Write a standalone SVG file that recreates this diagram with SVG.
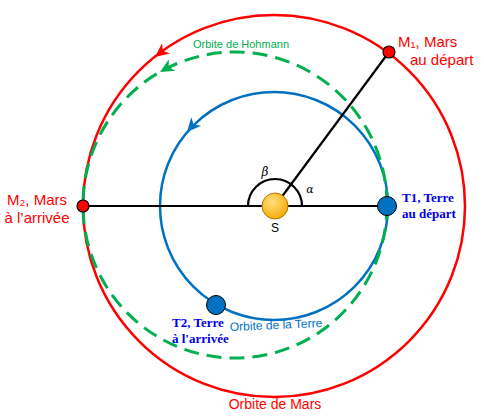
<svg xmlns="http://www.w3.org/2000/svg" width="484" height="418" viewBox="0 0 484 418">
<defs>
<radialGradient id="sun" cx="0.4" cy="0.35" r="0.7">
<stop offset="0" stop-color="#FFE080"/>
<stop offset="1" stop-color="#F5A800"/>
</radialGradient>
<path id="ah" d="M0,0 L-14,-6.5 L-10,0 L-14,6.5 Z"/>
<style>
.orb{fill:none}
.red{fill:#FF0000;font-family:"Liberation Sans",Arial,sans-serif;font-size:15px}
.tl{fill:#0000EE;font-family:"Liberation Serif","Times New Roman",serif;font-size:13px;font-weight:bold}
.ol{font-family:"Liberation Sans",Arial,sans-serif}
.line{stroke:#000;stroke-width:2.2;fill:none}
</style>
</defs>
<rect width="484" height="418" fill="#FFFFFF"/>
<g id="orbits">
<g id="orbite-mars">
<circle class="orb" cx="274" cy="206" r="191" stroke="#FF0000" stroke-width="2.5"/>
<use href="#ah" fill="#FF0000" transform="translate(155,57) rotate(142)"/>
<text class="ol" x="275" y="409" text-anchor="middle" font-size="14" fill="#FF0000">Orbite de Mars</text>
</g>
<g id="orbite-terre">
<circle class="orb" cx="274" cy="206" r="114" stroke="#0070C0" stroke-width="2.5"/>
<use href="#ah" fill="#0070C0" transform="translate(187,132) rotate(131)"/>
<text class="ol" x="230" y="331" font-size="12" fill="#0070C0" transform="rotate(-2.5 230 331)">Orbite de la Terre</text>
</g>
<g id="orbite-hohmann">
<ellipse class="orb" cx="235" cy="205" rx="152" ry="153" stroke="#00B050" stroke-width="3" stroke-dasharray="15 8"/>
<use href="#ah" fill="#00B050" transform="translate(160,72) rotate(150)"/>
<text class="ol" x="193" y="48" font-size="11" fill="#00B050">Orbite de Hohmann</text>
</g>
</g>
<g id="connectors">
<line class="line" x1="83" y1="206" x2="387" y2="206"/>
<line class="line" x1="275" y1="206" x2="389" y2="52"/>
<path class="line" d="M248,206 A27,27 0 0 1 302,206" stroke-width="1.6"/>
</g>
<g id="angles">
<text x="265" y="176" text-anchor="middle" font-family="'DejaVu Serif',serif" font-style="italic" font-size="12">β</text>
<text x="310" y="193" text-anchor="middle" font-family="'DejaVu Serif',serif" font-style="italic" font-size="11">α</text>
</g>
<g id="soleil">
<circle cx="275" cy="206" r="13" fill="url(#sun)" stroke="#B07800" stroke-width="1"/>
<text x="275" y="232" text-anchor="middle" font-family="'Liberation Sans',Arial,sans-serif" font-size="12">S</text>
</g>
<g id="M1">
<circle cx="389" cy="52" r="6" fill="#FF0000" stroke="#000" stroke-width="1.2"/>
<text class="red" x="398" y="47">M₁, Mars</text>
<text class="red" x="410" y="65">au départ</text>
</g>
<g id="M2">
<circle cx="83" cy="206" r="6" fill="#FF0000" stroke="#000" stroke-width="1.2"/>
<text class="red" x="37" y="205" text-anchor="middle">M₂, Mars</text>
<text class="red" x="37" y="223" text-anchor="middle">à l’arrivée</text>
</g>
<g id="T1">
<circle cx="387" cy="206" r="9.5" fill="#0070C0" stroke="#000" stroke-width="1"/>
<text class="tl" x="402" y="202">T1, Terre</text>
<text class="tl" x="402" y="218">au départ</text>
</g>
<g id="T2">
<circle cx="216" cy="305" r="9.5" fill="#0070C0" stroke="#000" stroke-width="1"/>
<text class="tl" x="172" y="327">T2, Terre</text>
<text class="tl" x="172" y="343">à l'arrivée</text>
</g>
</svg>
